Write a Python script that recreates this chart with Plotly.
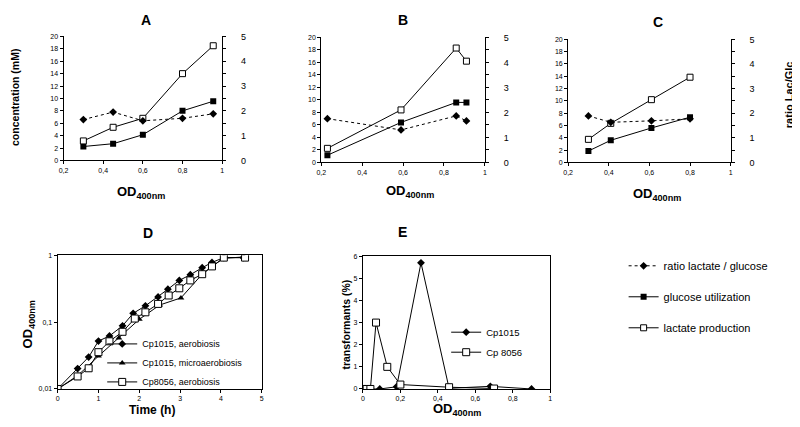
import plotly.graph_objects as go

W, H = 800, 427
OFF = 8  # the page body has a default 8px margin; positions below are in reference pixels
FONT = "Liberation Sans, Arial, sans-serif"

# ---------------- data ----------------
# Panel A
a_od = [0.30, 0.45, 0.60, 0.80, 0.955]
a_lactate = [3.15, 5.35, 6.8, 14.0, 18.5]
a_glucose = [2.25, 2.7, 4.15, 8.0, 9.55]
a_ratio = [1.65, 1.95, 1.6, 1.7, 1.88]
# Panel B
b_od = [0.23, 0.59, 0.86, 0.91]
b_lactate = [2.25, 8.4, 18.3, 16.2]
b_glucose = [1.15, 6.4, 9.6, 9.6]
b_ratio = [1.75, 1.3, 1.86, 1.66]
# Panel C
c_od = [0.30, 0.41, 0.61, 0.80]
c_lactate = [3.75, 6.35, 10.2, 13.85]
c_glucose = [1.85, 3.6, 5.6, 7.35]
c_ratio = [1.89, 1.63, 1.69, 1.77]
# Panel D (growth curves)
d_time_aer = [0, 0.49, 0.76, 1.0, 1.27, 1.59, 1.85, 2.15, 2.46, 2.70, 2.98, 3.25, 3.54, 3.78, 4.07, 4.55]
d_cp1015_aer = [0.01, 0.0202, 0.030, 0.052, 0.062, 0.088, 0.135, 0.175, 0.238, 0.31, 0.42, 0.51, 0.65, 0.78, 0.92, 0.92]
d_time_micro = [0, 0.5, 1.0, 1.5, 2.0, 2.5, 3.02, 3.54, 3.78, 4.07, 4.55]
d_cp1015_micro = [0.01, 0.016, 0.031, 0.058, 0.11, 0.18, 0.23, 0.52, 0.68, 0.9, 0.94]
d_time_8056 = [0, 0.49, 0.76, 1.0, 1.27, 1.59, 1.89, 2.15, 2.46, 2.72, 2.98, 3.25, 3.54, 3.78, 4.07, 4.59]
d_cp8056_aer = [0.01, 0.0154, 0.0204, 0.0355, 0.0516, 0.0716, 0.113, 0.14, 0.187, 0.25, 0.32, 0.42, 0.52, 0.68, 0.92, 0.92]
# Panel E (transformation)
e_od_1015 = [0.0, 0.09, 0.18, 0.31, 0.46, 0.68, 0.90]
e_tr_1015 = [0.0, 0.0, 0.1, 5.7, 0.03, 0.12, 0.0]
e_od_8056 = [0.0, 0.02, 0.04, 0.07, 0.13, 0.20, 0.46, 0.70]
e_tr_8056 = [0.0, 0.0, 0.0, 3.0, 1.0, 0.2, 0.08, 0.02]

x_ticks_od = [0.2, 0.4, 0.6, 0.8, 1.0]

# ---------------- helpers ----------------
def px(x):
    return (x - OFF) / W

def py(y):
    return 1 - (y - OFF) / H

def xd(x0, x1):
    return [px(x0), px(x1)]

def yd(top, bottom):
    return [py(bottom), py(top)]

fig = go.Figure()

open_sq = dict(symbol="square", size=6, color="white", line=dict(color="black", width=1))
fill_sq = dict(symbol="square", size=6, color="black", line=dict(color="black", width=0))
diam = dict(symbol="diamond", size=6, color="black", line=dict(width=0))
tri = dict(symbol="triangle-up", size=6, color="black", line=dict(width=0))

panels = [
    ("x", "y", "y2", a_od, a_lactate, a_glucose, a_ratio, True),
    ("x2", "y3", "y4", b_od, b_lactate, b_glucose, b_ratio, False),
    ("x3", "y5", "y6", c_od, c_lactate, c_glucose, c_ratio, False),
]
for xa, ya, ya2, od, lac, glc, rat, show in panels:
    fig.add_trace(go.Scatter(x=od, y=rat, xaxis=xa, yaxis=ya2, mode="lines+markers",
                             line=dict(color="black", width=1, dash="dot"), marker=diam,
                             name="ratio lactate / glucose", showlegend=show, legend="legend",
                             legendgroup="r"))
    fig.add_trace(go.Scatter(x=od, y=glc, xaxis=xa, yaxis=ya, mode="lines+markers",
                             line=dict(color="black", width=1), marker=fill_sq,
                             name="glucose utilization", showlegend=show, legend="legend",
                             legendgroup="g"))
    fig.add_trace(go.Scatter(x=od, y=lac, xaxis=xa, yaxis=ya, mode="lines+markers",
                             line=dict(color="black", width=1), marker=open_sq,
                             name="lactate production", showlegend=show, legend="legend",
                             legendgroup="l"))

fig.add_trace(go.Scatter(x=d_time_aer, y=d_cp1015_aer, xaxis="x4", yaxis="y7", mode="lines+markers",
                         line=dict(color="black", width=1), marker=diam,
                         name="Cp1015, aerobiosis", legend="legend2", legendgroup="d1"))
fig.add_trace(go.Scatter(x=d_time_micro, y=d_cp1015_micro, xaxis="x4", yaxis="y7", mode="lines+markers",
                         line=dict(color="black", width=1), marker=tri,
                         name="Cp1015, microaerobiosis", legend="legend2", legendgroup="d2"))
fig.add_trace(go.Scatter(x=d_time_8056, y=d_cp8056_aer, xaxis="x4", yaxis="y7", mode="lines+markers",
                         line=dict(color="black", width=1), marker=dict(open_sq, size=7),
                         name="Cp8056, aerobiosis", legend="legend2", legendgroup="d3"))

fig.add_trace(go.Scatter(x=e_od_1015, y=e_tr_1015, xaxis="x5", yaxis="y8", mode="lines+markers",
                         line=dict(color="black", width=1), marker=diam,
                         name="Cp1015", legend="legend3", legendgroup="e1"))
fig.add_trace(go.Scatter(x=e_od_8056, y=e_tr_8056, xaxis="x5", yaxis="y8", mode="lines+markers",
                         line=dict(color="black", width=1), marker=dict(open_sq, size=7),
                         name="Cp 8056", legend="legend3", legendgroup="e2"))

tickfont = dict(family=FONT, size=7, color="black")
base_ax = dict(showgrid=False, zeroline=False, showline=True, linecolor="black", linewidth=1,
               ticks="outside", ticklen=3, tickcolor="black", tickwidth=1, tickfont=tickfont)

def od_xaxis(dom, anchor):
    return dict(base_ax, domain=dom, anchor=anchor, range=[0.2, 1.0], tickvals=x_ticks_od)

def left_y(dom, anchor):
    return dict(base_ax, domain=dom, anchor=anchor, range=[0, 20], dtick=2)

def right_y(over, anchor):
    return dict(base_ax, overlaying=over, anchor=anchor, side="right", range=[0, 5], dtick=1,
                tickfont=dict(family=FONT, size=9, color="black"), ticklabelstandoff=13,
                minor=dict(dtick=0.5, ticks="outside", ticklen=3, tickcolor="black"))

layout = dict(
    width=W, height=H, margin=dict(l=0, r=0, t=0, b=0),
    paper_bgcolor="white", plot_bgcolor="white",
    separators=", ",
    font=dict(family=FONT, color="black"),
    xaxis=od_xaxis(xd(59, 219), "y"),
    yaxis=left_y(yd(32, 159), "x"),
    yaxis2=right_y("y", "x"),
    xaxis2=od_xaxis(xd(319, 484), "y3"),
    yaxis3=left_y(yd(33, 161), "x2"),
    yaxis4=right_y("y3", "x2"),
    xaxis3=od_xaxis(xd(568, 732), "y5"),
    yaxis5=left_y(yd(35, 161), "x3"),
    yaxis6=right_y("y5", "x3"),
    xaxis4=dict(base_ax, domain=xd(53, 259), anchor="y7", range=[0, 5], dtick=1, mirror=True),
    yaxis7=dict(base_ax, domain=yd(256, 393), anchor="x4", type="log", range=[-2, 0],
                tickvals=[0.01, 0.1, 1], ticktext=["0,01", "0,1", "1"], mirror=True),
    xaxis5=dict(base_ax, domain=xd(361, 550), anchor="y8", range=[0, 1], dtick=0.2, mirror=True),
    yaxis8=dict(base_ax, domain=yd(257, 393), anchor="x5", range=[0, 6], dtick=1, mirror=True),
    legend=dict(x=px(624), y=py(252), xanchor="left", yanchor="top", traceorder="grouped",
                tracegroupgap=12, font=dict(family=FONT, size=11), bgcolor="rgba(0,0,0,0)",
                itemwidth=30),
    legend2=dict(x=px(98), y=py(332), xanchor="left", yanchor="top", traceorder="grouped",
                 tracegroupgap=0, font=dict(family=FONT, size=9), bgcolor="rgba(0,0,0,0)",
                 itemwidth=30),
    legend3=dict(x=px(445), y=py(320), xanchor="left", yanchor="top", traceorder="grouped",
                 tracegroupgap=1, font=dict(family=FONT, size=9.5), bgcolor="rgba(0,0,0,0)",
                 itemwidth=30),
)
fig.update_layout(**layout)

def ann(text, x, y, size, angle=0, bold=True):
    fig.add_annotation(text=f"<b>{text}</b>" if bold else text, x=px(x), y=py(y),
                       xref="paper", yref="paper", showarrow=False, textangle=angle,
                       font=dict(family=FONT, size=size, color="black"),
                       xanchor="center", yanchor="middle")

ann("A", 142, 15, 14)
ann("B", 401, 15, 14)
ann("C", 659, 17, 14)
ann("D", 144, 233, 14)
ann("E", 401, 232, 14)
od_lbl = "OD<sub>400nm</sub>"
ann(od_lbl, 137, 192, 13)
ann(od_lbl, 408, 191, 13)
ann(od_lbl, 658, 194, 13)
ann(od_lbl, 456, 414, 13)
ann(od_lbl, 24, 327, 13, angle=-90)
ann("Time (h)", 148, 415, 12)
ann("concentration (mM)", 10, 94, 10.5, angle=-90)
ann("ratio Lac/Glc", 791, 92, 11, angle=-90)
ann("transformants (%)", 343, 327, 10.5, angle=-90)

fig.write_html("out.html")
